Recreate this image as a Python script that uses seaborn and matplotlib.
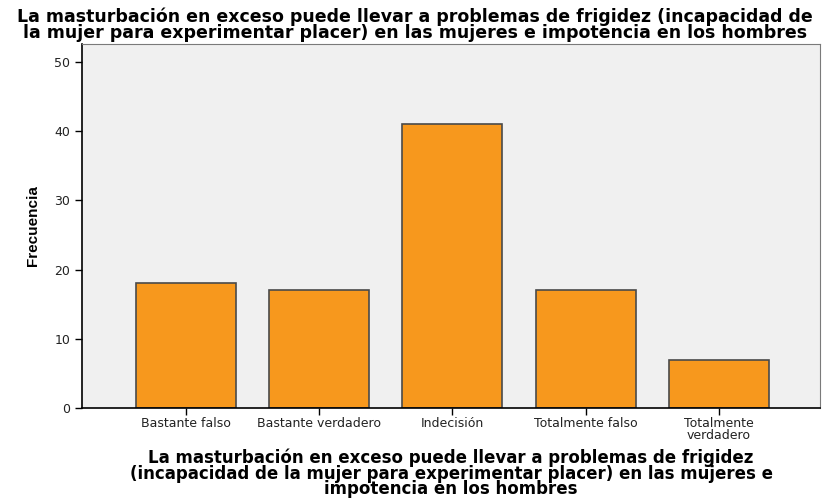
import matplotlib
matplotlib.use("Agg")
import matplotlib.pyplot as plt
import seaborn as sns
import pandas as pd

categories = ["Bastante falso", "Bastante verdadero", "Indecisión", "Totalmente falso", "Totalmente\nverdadero"]
frecuencia = [18, 17, 41, 17, 7]
yticks = [0, 10, 20, 30, 40, 50]

title = ("La masturbación en exceso puede llevar a problemas de frigidez (incapacidad de\n"
         "la mujer para experimentar placer) en las mujeres e impotencia en los hombres")
xlabel = ("La masturbación en exceso puede llevar a problemas de frigidez\n"
          "(incapacidad de la mujer para experimentar placer) en las mujeres e\n"
          "impotencia en los hombres")

sns.set_style("white", {"xtick.bottom": True, "ytick.left": True})
plt.rcParams['font.family'] = ['DejaVu Sans']
plt.rcParams['text.color'] = 'black'
plt.rcParams['axes.labelcolor'] = 'black'
plt.rcParams['xtick.color'] = 'black'
plt.rcParams['ytick.color'] = 'black'

df = pd.DataFrame({"cat": categories, "freq": frecuencia})

fig = plt.figure(figsize=(8.3, 4.99), dpi=100)
ax = fig.add_axes([0.0988, 0.1824, 0.8892, 0.7294])
ax.set_facecolor("#F0F0F0")
sns.barplot(data=df, x="cat", y="freq", color="#F7981D", width=0.75,
            edgecolor="#4a4a4a", linewidth=1.2, saturation=1, ax=ax)

ax.set_xlim(-0.78, 4.76)
ax.set_ylim(0, 52.6)
ax.set_yticks(yticks)
ax.tick_params(axis="both", labelsize=9, length=5, width=1, color="black", direction="out",
               labelcolor="#222222")
ax.tick_params(axis="x", pad=1.5)
for lbl in ax.get_xticklabels():
    lbl.set_linespacing(0.9)
for s in ["top", "right"]:
    ax.spines[s].set_color("#7a7a7a")
    ax.spines[s].set_linewidth(0.8)
for s in ["left", "bottom"]:
    ax.spines[s].set_color("black")
    ax.spines[s].set_linewidth(1.2)

ax.set_ylabel("Frecuencia", fontsize=11, fontweight="bold", labelpad=10,
              family=["Liberation Sans", "DejaVu Sans"])
ax.set_xlabel(xlabel, fontsize=12, fontweight="bold", labelpad=5, linespacing=0.8)
fig.suptitle(title, fontsize=12.5, fontweight="bold", y=0.984, linespacing=0.8)

fig.savefig("out.png", dpi=100)
